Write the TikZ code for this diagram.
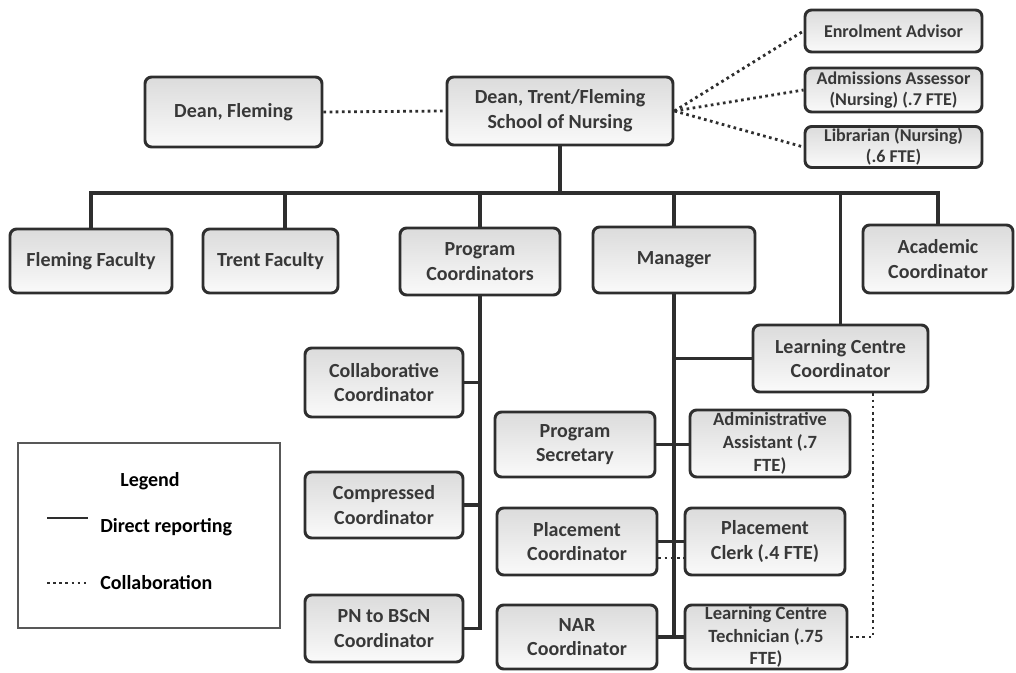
\documentclass[tikz,border=0pt]{standalone}
\usepackage{fontspec}
\setmainfont{Carlito}
\definecolor{ink}{HTML}{2E2E2E}
\definecolor{txt}{HTML}{383838}
\tikzset{
  box/.style 2 args={draw=ink, line width=2.2pt, rounded corners=5pt,
    top color=gray!28, bottom color=gray!4,
    minimum width=#1*0.75pt, minimum height=#2*0.75pt, inner sep=0pt,
    align=center, text=txt, font=\fontsize{15}{18.5}\selectfont\bfseries},
  small/.style={font=\fontsize{13.5}{15.5}\selectfont\bfseries},
  three/.style={font=\fontsize{14}{17}\selectfont\bfseries},
  rep/.style={draw=ink, line width=2.3pt},
  collab/.style={draw=ink, line width=2.1pt, dash pattern=on 2pt off 2.6pt},
  legbox/.style={draw=ink!80, line width=0.8pt},
  legtext/.style={font=\fontsize{15}{18}\selectfont\bfseries, text=black, inner sep=0pt},
}
\begin{document}
\begin{tikzpicture}[x=0.75pt,y=-0.75pt]
\useasboundingbox (0,0) rectangle (1016,673);

% top level
\node[box={177}{70}] (df) at (233.5,112) {Dean, Fleming};
\node[box={226}{68}] (dtf) at (560,111) {Dean, Trent/Fleming\\School of Nursing};
\node[box={177}{42}, small] (ea) at (893.5,31) {Enrolment Advisor};
\node[box={177}{44}, small] (aas) at (893.5,90) {Admissions Assessor\\(Nursing) (.7 FTE)};
\node[box={177}{41}, small] (lib) at (893.5,147) {Librarian (Nursing)\\(.6 FTE)};

% second row
\node[box={162}{64}] (ff) at (91,261) {Fleming Faculty};
\node[box={135}{64}] (tf) at (270.5,261) {Trent Faculty};
\node[box={160}{67}] (pc) at (480,261.5) {Program\\Coordinators};
\node[box={162}{66}] (mgr) at (674,260) {Manager};
\node[box={150}{68}] (ac) at (938,259) {Academic\\Coordinator};

% lower boxes
\node[box={175}{67}] (lcc) at (840.5,358.5) {Learning Centre\\Coordinator};
\node[box={158}{69}] (cc) at (384,382.5) {Collaborative\\Coordinator};
\node[box={158}{66}] (cmp) at (384,505) {Compressed\\Coordinator};
\node[box={158}{67}] (pn) at (384,628.5) {PN to BScN\\Coordinator};
\node[box={160}{65}] (ps) at (575,444.5) {Program\\Secretary};
\node[box={160}{67}] (plc) at (577,541.5) {Placement\\Coordinator};
\node[box={160}{64}] (nar) at (577,637) {NAR\\Coordinator};
\node[box={160}{67}, three] (aa) at (770,443.5) {Administrative\\Assistant (.7\\FTE)};
\node[box={160}{67}] (pclk) at (765,541.5) {Placement\\Clerk (.4 FTE)};
\node[box={162}{64}, three] (lct) at (766,637) {Learning Centre\\Technician (.75\\FTE)};

% collaboration lines at top
\draw[collab] (df.east) -- (dtf.west);
\draw[collab] (dtf.east) -- (ea.west);
\draw[collab] (dtf.east) -- (aas.west);
\draw[collab] (dtf.east) -- (lib.west);

% bus
\coordinate (busy) at (0,193);
\coordinate (tfx) at (285,0);
\draw[rep] (dtf.south) -- (dtf.south |- busy);
\draw[rep] (ff.north) |- (ac.north |- busy) -- (ac.north);
\draw[rep] (tf.north -| tfx) -- (busy -| tfx);
\draw[rep] (pc.north |- busy) -- (pc.north);
\draw[rep] (mgr.north |- busy) -- (mgr.north);
\draw[rep] (lcc.north |- busy) -- (lcc.north);

% program coordinators branch
\draw[rep] (pc.south) -- (pc.south |- pn.east) -- (pn.east);
\draw[rep] (cc.east) -- (cc.east -| pc.south);
\draw[rep] (cmp.east) -- (cmp.east -| pc.south);

% manager branch
\draw[rep] (mgr.south) -- (mgr.south |- nar.east);
\draw[rep] (lcc.west) -- (lcc.west -| mgr.south);
\draw[rep] (ps.east) -- (ps.east -| aa.west);
\draw[rep] (plc.east) -- (plc.east -| pclk.west);
\draw[rep] (nar.east) -- (nar.east -| lct.west);
\coordinate (pd1) at ([yshift=-12.4pt]plc.east);
\coordinate (pd2) at (pd1 -| pclk.west);
\draw[collab] (pd1) -- (pd2);

% learning centre collaboration
\coordinate (ldx) at (873,0);
\draw[collab] (lcc.south -| ldx) |- (lct.east);

% legend
\node[legbox, minimum width=262*0.75pt, minimum height=185*0.75pt, inner sep=0pt] (leg) at (149,535.5) {};
\node[legtext] (legt) at (150,481) {Legend};
\node[legtext, anchor=west] (ldr) at (100,527) {Direct reporting};
\node[legtext, anchor=west] (lcol) at (100,583) {Collaboration};
\coordinate (la1) at (47,518);
\coordinate (la2) at (88,518);
\coordinate (lb1) at (47,583);
\coordinate (lb2) at (88,583);
\draw[rep, line width=2pt] (la1) -- (la2);
\draw[collab, line width=1.8pt] (lb1) -- (lb2);
\end{tikzpicture}
\end{document}
